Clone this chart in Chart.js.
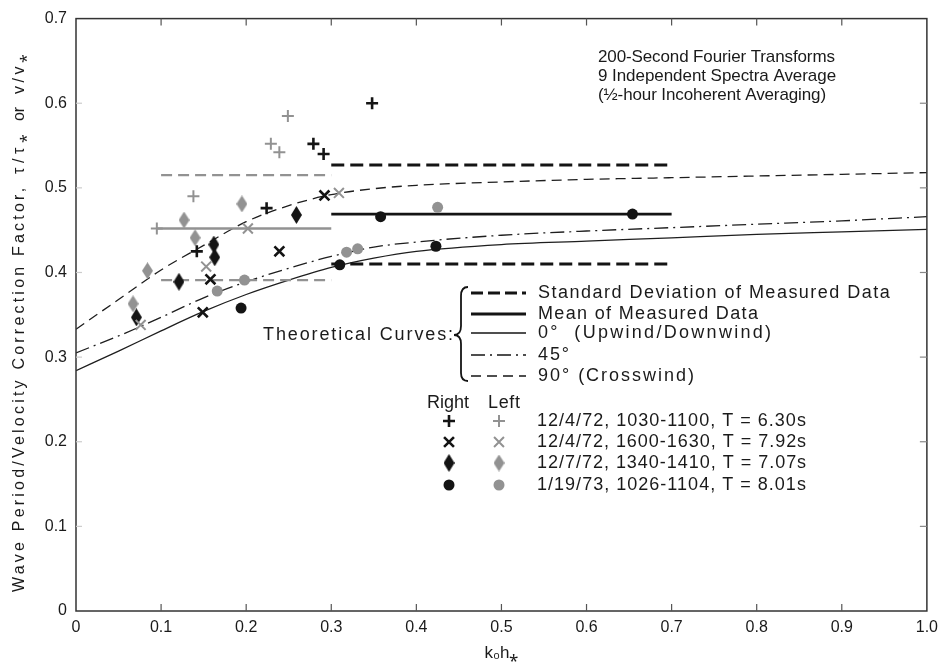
<!DOCTYPE html>
<html>
<head>
<meta charset="utf-8">
<title>Wave Period/Velocity Correction Factor</title>
<script src="https://cdn.jsdelivr.net/npm/chart.js@4.4.1/dist/chart.umd.min.js"></script>
<style>
  html, body { margin: 0; padding: 0; background: #fff; }
  #chart { display: block; }
</style>
</head>
<body>
<canvas id="chart" width="945" height="671"></canvas>
<script>
// Axis ticks
const xTicks = [0, 0.1, 0.2, 0.3, 0.4, 0.5, 0.6, 0.7, 0.8, 0.9, 1.0];
const yTicks = [0, 0.1, 0.2, 0.3, 0.4, 0.5, 0.6, 0.7];

// Measured points, "Right" (black) and "Left" (grey) for each run
const plusRightX = [0.348, 0.279, 0.291, 0.224, 0.142];
const plusRightY = [0.600, 0.552, 0.540, 0.476, 0.425];
const plusLeftX = [0.249, 0.229, 0.239, 0.138, 0.095];
const plusLeftY = [0.585, 0.552, 0.542, 0.490, 0.452];

const crossRightX = [0.292, 0.239, 0.158, 0.149];
const crossRightY = [0.491, 0.425, 0.392, 0.353];
const crossLeftX = [0.309, 0.202, 0.153, 0.076];
const crossLeftY = [0.494, 0.452, 0.407, 0.338];

const diamondRightX = [0.259, 0.162, 0.163, 0.121, 0.071];
const diamondRightY = [0.468, 0.433, 0.418, 0.389, 0.347];
const diamondLeftX = [0.195, 0.127, 0.140, 0.084, 0.067];
const diamondLeftY = [0.481, 0.462, 0.441, 0.402, 0.363];

const circleRightX = [0.194, 0.310, 0.358, 0.423, 0.654];
const circleRightY = [0.358, 0.409, 0.466, 0.431, 0.469];
const circleLeftX = [0.166, 0.198, 0.318, 0.331, 0.425];
const circleLeftY = [0.378, 0.391, 0.424, 0.428, 0.477];

// Mean and +/- standard deviation of measured data: [upper, mean, lower]
const leftRangeX = [0.1, 0.3];
const leftStatsY = [0.515, 0.452, 0.391];
const rightRangeX = [0.3, 0.7];
const rightStatsY = [0.527, 0.469, 0.410];

// Theoretical curves
const curveX = [0, 0.05, 0.1, 0.15, 0.2, 0.25, 0.3, 0.35, 0.4, 0.5, 0.6, 0.7, 0.8, 0.9, 1.0];
const curve0 = [0.284, 0.307, 0.331, 0.354, 0.374, 0.391, 0.406, 0.417, 0.425, 0.433, 0.437, 0.441, 0.445, 0.448, 0.451];
const curve45 = [0.305, 0.325, 0.347, 0.370, 0.389, 0.405, 0.419, 0.430, 0.436, 0.444, 0.449, 0.453, 0.457, 0.461, 0.466];
const curve90 = [0.333, 0.368, 0.403, 0.432, 0.460, 0.479, 0.492, 0.499, 0.503, 0.507, 0.510, 0.512, 0.514, 0.516, 0.518];

const runLabels = [
  '12/4/72, 1030-1100, T = 6.30s',
  '12/4/72, 1600-1630, T = 7.92s',
  '12/7/72, 1340-1410, T = 7.07s',
  '1/19/73, 1026-1104, T = 8.01s'
];

const BLACK = '#141414';
const GREY = '#929292';
const FONT = '"Liberation Sans", Arial, sans-serif';

function pts(xs, ys) {
  return xs.map((x, i) => ({ x: x, y: ys[i] }));
}
function flat(xs, y) {
  return xs.map(x => ({ x: x, y: y }));
}
function diamond(color, w, h) {
  const c = document.createElement('canvas');
  c.width = w; c.height = h;
  const g = c.getContext('2d');
  g.fillStyle = color;
  g.beginPath();
  g.moveTo(w / 2, 0); g.lineTo(w, h / 2); g.lineTo(w / 2, h); g.lineTo(0, h / 2);
  g.closePath();
  g.fill();
  return c;
}
const diamondBlack = diamond(BLACK, 11, 18);
const diamondGrey = diamond(GREY, 11, 17);

function markers(data, style, color, radius, width) {
  return {
    data: data, showLine: false, order: 1,
    pointStyle: style, pointRadius: radius, pointHoverRadius: radius,
    borderColor: color, backgroundColor: color, pointBorderWidth: width
  };
}
function line(data, color, width, dash, smooth) {
  return {
    data: data, showLine: true, order: 2, pointRadius: 0,
    borderColor: color, borderWidth: width, borderDash: dash,
    cubicInterpolationMode: smooth ? 'monotone' : 'default', tension: 0
  };
}

const pointSets = [
  markers(pts(plusRightX, plusRightY), 'cross', BLACK, 6, 2.6),
  markers(pts(plusLeftX, plusLeftY), 'cross', GREY, 6, 2),
  markers(pts(crossRightX, crossRightY), 'crossRot', BLACK, 7, 2.6),
  markers(pts(crossLeftX, crossLeftY), 'crossRot', GREY, 7, 2),
  markers(pts(diamondRightX, diamondRightY), diamondBlack, BLACK, 6, 0),
  markers(pts(diamondLeftX, diamondLeftY), diamondGrey, GREY, 6, 0),
  markers(pts(circleRightX, circleRightY), 'circle', BLACK, 5.5, 0),
  markers(pts(circleLeftX, circleLeftY), 'circle', GREY, 5.5, 0)
];

const lineSets = [
  line(flat(leftRangeX, leftStatsY[0]), GREY, 2.4, [11, 6]),
  line(flat([0.095, leftRangeX[1]], leftStatsY[1]), GREY, 2.4, []),
  line(flat(leftRangeX, leftStatsY[2]), GREY, 2.4, [11, 6]),
  line(flat(rightRangeX, rightStatsY[0]), BLACK, 3, [13, 6]),
  line(flat(rightRangeX, rightStatsY[1]), BLACK, 2.6, []),
  line(flat(rightRangeX, rightStatsY[2]), BLACK, 3, [13, 6]),
  line(pts(curveX, curve0), '#1e1e1e', 1.3, [], true),
  line(pts(curveX, curve45), '#1e1e1e', 1.3, [14, 5, 2, 5], true),
  line(pts(curveX, curve90), '#1e1e1e', 1.3, [10, 6], true)
];

// draw text stretched with letter spacing to a given width
function fitText(ctx, text, x, y, size, width) {
  ctx.font = size + 'px ' + FONT;
  ctx.letterSpacing = '0px';
  const w = ctx.measureText(text).width;
  const sp = (width - w) / Math.max(1, text.length - 1);
  ctx.letterSpacing = sp.toFixed(2) + 'px';
  ctx.fillText(text, x, y);
  ctx.letterSpacing = '0px';
}

const decorations = {
  id: 'decorations',
  beforeDraw(chart) {
    const ctx = chart.ctx;
    ctx.save();
    ctx.fillStyle = '#fff';
    ctx.fillRect(0, 0, chart.width, chart.height);
    ctx.restore();
  },
  afterDraw(chart) {
    const ctx = chart.ctx;
    const a = chart.chartArea;
    const xs = chart.scales.x, ys = chart.scales.y;
    ctx.save();

    // frame
    ctx.strokeStyle = '#333';
    ctx.lineWidth = 1.5;
    ctx.strokeRect(a.left, a.top, a.right - a.left, a.bottom - a.top);

    // inside tick marks
    ctx.lineWidth = 1.2;
    xTicks.slice(1, -1).forEach(v => {
      const px = xs.getPixelForValue(v);
      ctx.strokeStyle = '#555';
      ctx.beginPath();
      ctx.moveTo(px, a.bottom); ctx.lineTo(px, a.bottom - 7);
      ctx.moveTo(px, a.top); ctx.lineTo(px, a.top + 7);
      ctx.stroke();
    });
    yTicks.slice(1, -1).forEach(v => {
      const py = ys.getPixelForValue(v);
      ctx.strokeStyle = '#888';
      ctx.beginPath();
      ctx.moveTo(a.right, py); ctx.lineTo(a.right - 7, py);
      ctx.stroke();
      ctx.strokeStyle = '#ccc';
      ctx.beginPath();
      ctx.moveTo(a.left, py); ctx.lineTo(a.left + 6, py);
      ctx.stroke();
    });

    ctx.fillStyle = '#1a1a1a';
    ctx.textBaseline = 'middle';
    ctx.textAlign = 'left';

    // y axis title, drawn bottom-to-top in its four pieces
    ctx.save();
    ctx.translate(20, 0);
    ctx.rotate(-Math.PI / 2);
    fitText(ctx, 'Wave Period/Velocity Correction Factor,', -592, 0, 16, 404);
    fitText(ctx, '\u03C4/\u03C4\u204E', -174, 0, 16, 40);
    fitText(ctx, 'or', -121, 0, 16, 14);
    fitText(ctx, 'v/v\u204E', -94, 0, 16, 40);
    ctx.restore();

    // header note
    fitText(ctx, '200-Second Fourier Transforms', 598, 57, 17, 237);
    fitText(ctx, '9 Independent Spectra Average', 598, 76, 17, 238);
    fitText(ctx, '(\u00BD-hour Incoherent Averaging)', 598, 95, 17, 228);

    // line legend
    const legendRows = [293, 314, 333, 355, 376];
    const legendText = [
      ['Standard Deviation of Measured Data', 352],
      ['Mean of Measured Data', 220],
      ['0\u00B0  (Upwind/Downwind)', 233],
      ['45\u00B0', 31],
      ['90\u00B0 (Crosswind)', 156]
    ];
    const legendStyle = [
      [3, [12, 5]], [3, []], [1.3, []], [1.3, [14, 5, 2, 5]], [1.3, [10, 6]]
    ];
    legendRows.forEach((y, i) => {
      ctx.strokeStyle = BLACK;
      ctx.lineWidth = legendStyle[i][0];
      ctx.setLineDash(legendStyle[i][1]);
      ctx.beginPath();
      ctx.moveTo(471, y); ctx.lineTo(526, y);
      ctx.stroke();
      ctx.setLineDash([]);
      fitText(ctx, legendText[i][0], 538, y, 18, legendText[i][1]);
    });
    fitText(ctx, 'Theoretical Curves:', 263, 335, 18, 190);

    // brace
    ctx.strokeStyle = BLACK;
    ctx.lineWidth = 1.8;
    ctx.beginPath();
    ctx.moveTo(468, 287);
    ctx.quadraticCurveTo(461, 287, 461, 296);
    ctx.lineTo(461, 326);
    ctx.quadraticCurveTo(461, 335, 454, 335);
    ctx.quadraticCurveTo(461, 335, 461, 344);
    ctx.lineTo(461, 373);
    ctx.quadraticCurveTo(461, 381, 468, 381);
    ctx.stroke();

    // marker legend
    fitText(ctx, 'Right', 427, 403, 18, 42);
    fitText(ctx, 'Left', 488, 403, 18, 32);
    const rowY = [421, 442, 463, 485];
    const rightSets = [0, 2, 4, 6];
    rowY.forEach((y, i) => {
      const r = chart.data.datasets[rightSets[i]];
      const l = chart.data.datasets[rightSets[i] + 1];
      ctx.fillStyle = r.backgroundColor; ctx.strokeStyle = r.borderColor; ctx.lineWidth = r.pointBorderWidth;
      Chart.helpers.drawPoint(ctx, {
        pointStyle: r.pointStyle, radius: r.pointRadius, borderWidth: r.pointBorderWidth
      }, 449, y);
      ctx.fillStyle = l.backgroundColor; ctx.strokeStyle = l.borderColor; ctx.lineWidth = l.pointBorderWidth;
      Chart.helpers.drawPoint(ctx, {
        pointStyle: l.pointStyle, radius: l.pointRadius, borderWidth: l.pointBorderWidth
      }, 499, y);
      ctx.fillStyle = '#1a1a1a';
      fitText(ctx, runLabels[i], 537, y, 18, 269);
    });
    ctx.restore();
  }
};

const tickFont = { family: FONT, size: 16 };

new Chart(document.getElementById('chart'), {
  type: 'scatter',
  data: { datasets: pointSets.concat(lineSets) },
  options: {
    responsive: false,
    animation: false,
    layout: { padding: { left: 0, top: 18, right: 17, bottom: 0 } },
    plugins: { legend: { display: false }, tooltip: { enabled: false } },
    scales: {
      x: {
        type: 'linear', min: 0, max: 1,
        afterFit: s => { s.height = 60; },
        afterBuildTicks: s => { s.ticks = xTicks.map(v => ({ value: v })); },
        grid: { display: false, drawTicks: false },
        border: { display: false },
        ticks: {
          color: '#1a1a1a', font: tickFont, padding: 7, maxRotation: 0,
          callback: v => (v === 0 ? '0' : v.toFixed(1))
        },
        title: {
          display: true, text: 'k\u2080h\u204E', color: '#1a1a1a',
          font: { family: FONT, size: 17 }, padding: { top: 0, bottom: 7 }
        }
      },
      y: {
        type: 'linear', min: 0, max: 0.7,
        afterFit: s => { s.width = 76; },
        afterBuildTicks: s => { s.ticks = yTicks.map(v => ({ value: v })); },
        grid: { display: false, drawTicks: false },
        border: { display: false },
        ticks: {
          color: '#1a1a1a', font: tickFont, padding: 9,
          callback: v => (v === 0 ? '0' : v.toFixed(1))
        }
      }
    }
  },
  plugins: [decorations]
});
</script>
</body>
</html>
